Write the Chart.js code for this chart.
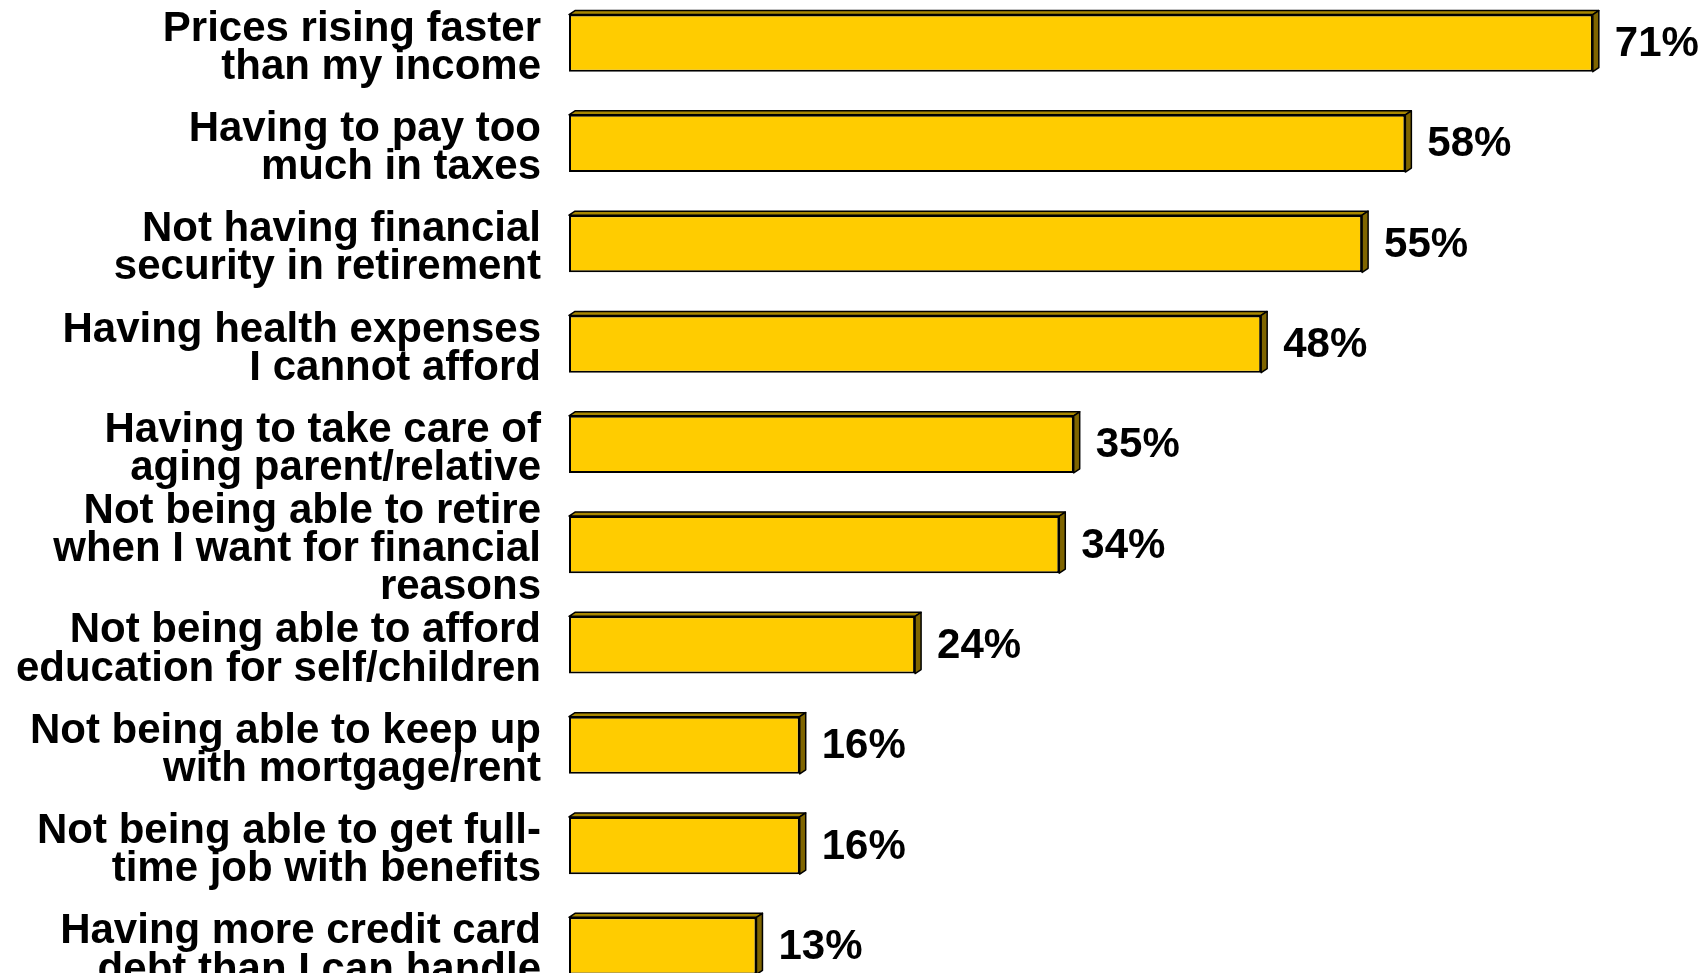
<!DOCTYPE html>
<html>
<head>
<meta charset="utf-8">
<script src="https://cdn.jsdelivr.net/npm/chart.js@4/dist/chart.umd.min.js"></script>
<style>
html, body { margin: 0; padding: 0; background: #fff; overflow: hidden; width: 1706px; height: 973px; }
#wrap { position: absolute; left: 0; top: -7px; }
</style>
</head>
<body>
<div id="wrap"><canvas id="chart" width="1706" height="1003"></canvas></div>
<script>
var labels = [
    ["Prices rising faster", "than my income"],
    ["Having to pay too", "much in taxes"],
    ["Not having financial", "security in retirement"],
    ["Having health expenses", "I cannot afford"],
    ["Having to take care of", "aging parent/relative"],
    ["Not being able to retire", "when I want for financial", "reasons"],
    ["Not being able to afford", "education for self/children"],
    ["Not being able to keep up", "with mortgage/rent"],
    ["Not being able to get full-", "time job with benefits"],
    ["Having more credit card", "debt than I can handle"]
];
var values = [71, 58, 55, 48, 35, 34, 24, 16, 16, 13];

// draws the top and side faces plus the % label for each bar
var bar3d = {
    id: "bar3d",
    afterDatasetsDraw: function(chart) {
        var ctx = chart.ctx;
        var meta = chart.getDatasetMeta(0);
        var dx = 6, dy = 4;
        meta.data.forEach(function(bar, i) {
            var p = bar.getProps(["x", "y", "base", "height"], true);
            var top = p.y - p.height / 2;
            var bot = p.y + p.height / 2;
            ctx.save();
            ctx.lineWidth = 1.5;
            ctx.strokeStyle = "#000";
            ctx.lineJoin = "round";
            // top face
            ctx.beginPath();
            ctx.moveTo(p.base, top);
            ctx.lineTo(p.base + dx, top - dy);
            ctx.lineTo(p.x + dx, top - dy);
            ctx.lineTo(p.x, top);
            ctx.closePath();
            ctx.fillStyle = "#A88700";
            ctx.fill();
            ctx.stroke();
            // side face
            ctx.beginPath();
            ctx.moveTo(p.x, top);
            ctx.lineTo(p.x + dx, top - dy);
            ctx.lineTo(p.x + dx, bot - dy);
            ctx.lineTo(p.x, bot);
            ctx.closePath();
            ctx.fillStyle = "#7F6500";
            ctx.fill();
            ctx.stroke();
            // value label
            ctx.font = 'bold 42px "Liberation Sans", Arial, sans-serif';
            ctx.fillStyle = "#000";
            ctx.textAlign = "left";
            ctx.textBaseline = "alphabetic";
            ctx.fillText(values[i] + "%", p.x + 22, p.y + 13);
            ctx.restore();
        });
    }
};

var chart = new Chart(document.getElementById("chart").getContext("2d"), {
    type: "bar",
    data: {
        labels: labels,
        datasets: [{
            data: values,
            backgroundColor: "#FFCC00",
            borderColor: "#000",
            borderWidth: 2,
            borderSkipped: false,
            categoryPercentage: 1.0,
            barPercentage: 0.57
        }]
    },
    options: {
        indexAxis: "y",
        responsive: false,
        animation: false,
        devicePixelRatio: 1,
        layout: { padding: { left: 0, right: 55.5, top: 0, bottom: 0 } },
        plugins: { legend: { display: false }, tooltip: { enabled: false } },
        scales: {
            x: { display: false, min: 0, max: 75 },
            y: {
                afterFit: function(scale) {
                    scale.width = 569;
                    scale.paddingTop = 0;
                    scale.paddingBottom = 0;
                },
                grid: { display: false, drawTicks: false, tickLength: 0 },
                border: { display: false },
                ticks: {
                    autoSkip: false,
                    padding: 28,
                    labelOffset: 5,
                    color: "#000",
                    font: { family: '"Liberation Sans", Arial, sans-serif', size: 42, weight: "bold", lineHeight: 0.91 }
                }
            }
        }
    },
    plugins: [bar3d]
});
</script>
</body>
</html>
